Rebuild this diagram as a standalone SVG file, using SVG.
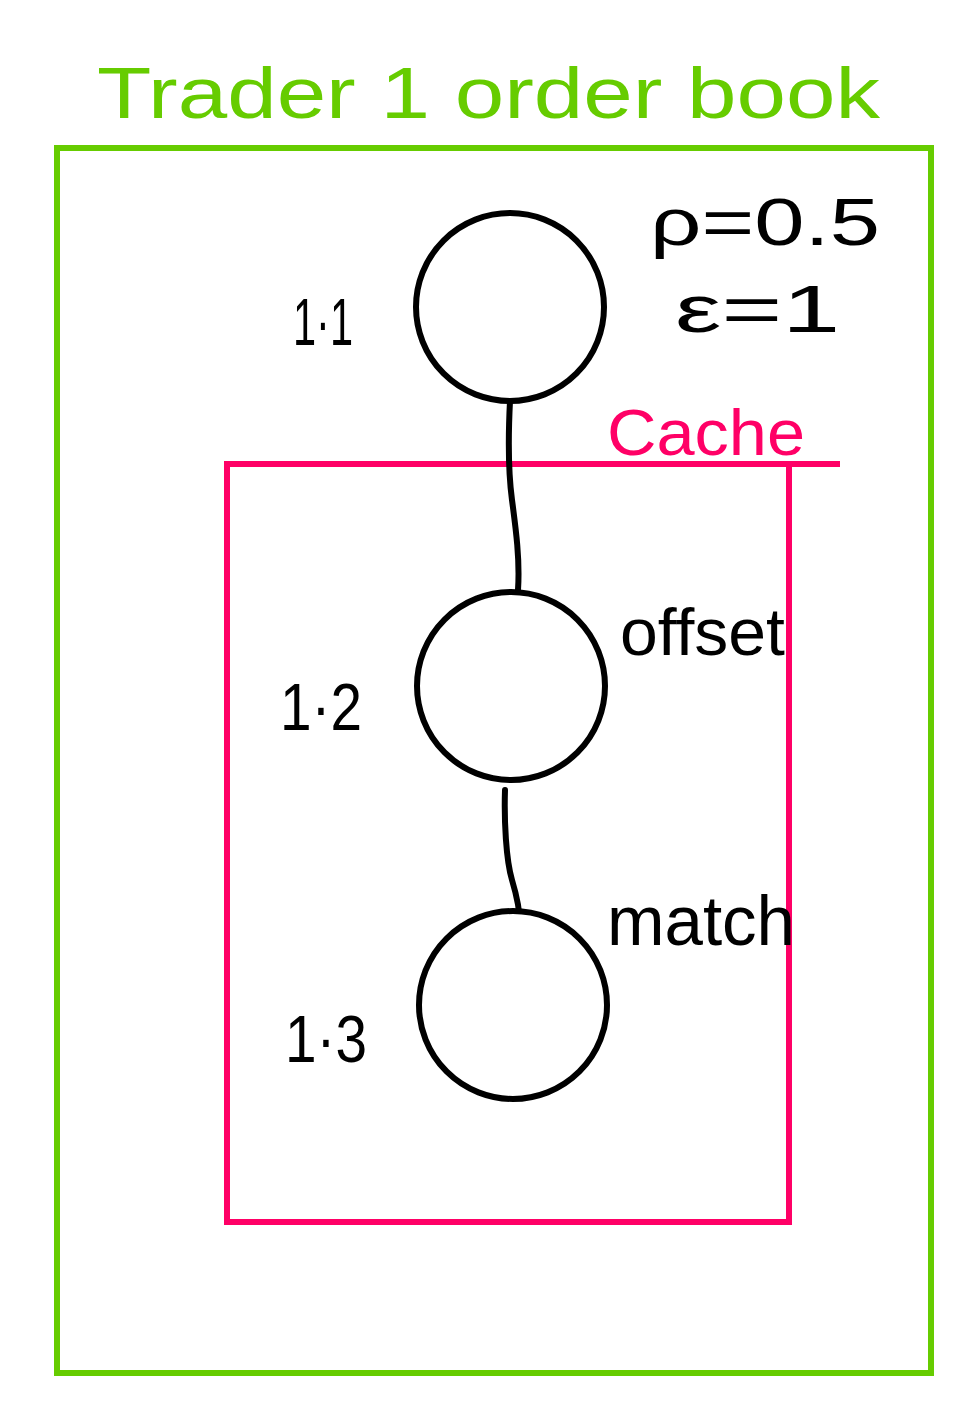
<svg xmlns="http://www.w3.org/2000/svg" width="962" height="1427" viewBox="0 0 962 1427">
<style>
.g{fill:none;stroke:#66cc00;stroke-width:6}
.p{fill:none;stroke:#ff0066;stroke-width:6}
.n{fill:#fff;stroke:#000;stroke-width:6}
.c{fill:none;stroke:#000;stroke-width:6;stroke-linecap:round}
.t{font-family:"Liberation Sans",Arial,sans-serif;fill:#000}
.tg{font-family:"Liberation Sans",Arial,sans-serif;fill:#66cc00}
.tp{font-family:"Liberation Sans",Arial,sans-serif;fill:#ff0066}
</style>
<rect width="962" height="1427" fill="#fff"/>
<g id="orderbook">
<rect class="g" x="57" y="148" width="874" height="1225"/>
<text class="tg" x="97" y="118" font-size="72" textLength="783" lengthAdjust="spacingAndGlyphs">Trader 1 order book</text>
</g>
<g id="cache">
<rect class="p" x="227" y="464" width="562" height="758"/>
<line class="p" x1="789" y1="464" x2="840" y2="464"/>
<text class="tp" x="607" y="455" font-size="64" textLength="198" lengthAdjust="spacingAndGlyphs">Cache</text>
</g>
<g id="params">
<text class="t" x="650" y="245" font-size="66" textLength="230" lengthAdjust="spacingAndGlyphs">ρ=0.5</text>
<text class="t" x="675" y="332" font-size="66" textLength="165" lengthAdjust="spacingAndGlyphs">ε=1</text>
</g>
<g id="connectors">
<path class="c" d="M510 401 C508 440 508 470 512 500 C516 530 520 560 518 590"/>
<path class="c" d="M505 790 C504 820 506 860 512 880 C518 900 520 915 520 925"/>
</g>
<g id="node1">
<circle class="n" cx="510" cy="307" r="94"/>
<text class="t" x="293" y="345" font-size="66" textLength="60" lengthAdjust="spacingAndGlyphs">1·1</text>
</g>
<g id="node2">
<circle class="n" cx="511" cy="686" r="94"/>
<text class="t" x="280" y="730" font-size="66" textLength="82" lengthAdjust="spacingAndGlyphs">1·2</text>
</g>
<g id="node3">
<circle class="n" cx="513" cy="1005" r="94"/>
<text class="t" x="285" y="1062" font-size="66" textLength="82" lengthAdjust="spacingAndGlyphs">1·3</text>
</g>
<g id="labels">
<text class="t" x="620" y="655" font-size="66" textLength="165" lengthAdjust="spacingAndGlyphs">offset</text>
<text class="t" x="607" y="945" font-size="70" textLength="188" lengthAdjust="spacingAndGlyphs">match</text>
</g>
</svg>
